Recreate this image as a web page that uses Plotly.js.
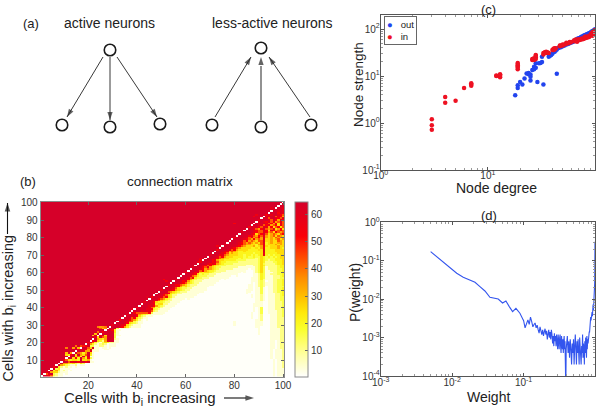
<!DOCTYPE html>
<html><head><meta charset="utf-8">
<script src="https://cdn.plot.ly/plotly-3.0.1.min.js"></script>
<style>html,body{margin:0;padding:0;background:#fff}</style>
</head><body><div id="chart" style="width:602px;height:415px"></div>
<script>
// ---------- panel (a): network sketches ----------
const nodeX = [110, 62, 110, 160, 261, 212, 261, 311];
const nodeY = [50, 125, 127, 124, 48, 125, 127, 125];
const darkArrowX = [103, 67, null, 110, 110, null, 117, 157, null, 215, 251, null, 310, 269];
const darkArrowY = [57, 117, null, 57, 120, null, 57, 117, null, 117, 57, null, 117, 57];
const grayArrowX = [261, 261];
const grayArrowY = [120, 66];
const headFromX = [103, 110, 117, 215, 261, 310];
const headFromY = [57, 57, 57, 117, 120, 117];
const headToX = [67, 110, 157, 251, 261, 269];
const headToY = [117, 120, 117, 57, 57, 57];
const axisArrowX = [224, 254, null, 7.5, 7.5];
const axisArrowY = [398, 398, null, 234, 203];

// ---------- panel (b): connection matrix ----------
const tickValuesB = [20, 40, 60, 80, 100];
const tickValuesBY = [10, 20, 30, 40, 50, 60, 70, 80, 90, 100];
const colorTicks = [10, 20, 30, 40, 50, 60];
const levelKeys = ['.', 'a', 'b', 'c', 'd', 'e', 'f', 'g', 'h', 'i', 'j', 'k'];
const levelValues = [1, 4, 11, 16, 21, 26, 34, 43, 52, 58, 62, 64];
const saturatedValue = 64;
// below the diagonal: rows y = 99 down to y = 1, cells x = y+1 ... 100 (numbers = run of blanks)
const lowerRows = [
"j","kj","kji","jkki","kjiji","kjkhji","kijkihg","jikjgihf","kjgjkihgi","kjkigjhfih",
"i kihjgifgig","ki jkighfieig","jki jghifgheig","kijh gjifhegheg","kjigf hjgfgiefhe",
"kkjihg gjheihfghg","kkkjihg gihfgehgfg","kkjkiheg hjgefgfegh","kkjjhigfh gifefgegfe","kkkjighfgh fjfefegfge",
"k kkjihgfhfg fjeefefgef","kk jjighfgfeg gjeefeegfe","kkk jihgfgfefe gidefeeffe","kkkj jihgffeedf gideeefefe","kkkjj ihgfeeefde fiedeeefee",
"kkkjih gfeeeedded fiddeeefed","kkkjigh feeeedddde ejddddeeee","kkjihfgf eddedddddd ejddddeeee","kkjihgefe eddddddcdd eidddddeee","kkjhigfeee eddcddcdcd eidcdcddee",
"k kjighfeeed dddcdccdcc edcdcdcdee","kk jihgfeeddd dcdcccccbc edccccddee","kkj hifeeddddd ccccbbbbbc edcbccddde","kkjj higeddcccc cbbbbbbbbc edbbbccdde","kkjih ihfedccccb bbbbbbbbbc ecbbbbcdde",
"kjihgh fedcccbbbb bbbbaaabbc edbbbbbcdd","kkjhgif edccbbbbbb baaaaaaabc ecabbbbcdd","kkjihfgf edcbbbbbba aaaaa.aabc ecabbbbccd","kkjighfed dcbbbbaaaa aaaa...abc ecaabbbccd","kkjhiedeed cbbbaaaaaa aa.a...abc ecaaabbccd",
"k kjihecdccb bbaaaaaaaa a......aab dcaabbbccd","kk jigfdcccbb baaaaaaa.. a......aab dcaaabbbcd","kkj ighdccbbba aaaaaaa... ......aaab dcaaabbbcc","kkjj hfdcbbbaaa aaaa.a.... ......aaab dbaaabbccd","kkjhi fdcbbbaaaa aaa....... ......aaab cb.aabbccd",
"kkjihg edcbbaaaaa aa........ ......a.ab cbaaabbccd","kjhhgfe cbbbaaaaaa a......... .....aa.ab cbaaabbccd","kkjihfde cbbaaaaaa. 10 .....aa.ab cb.aabbccc","kkjigedcc bbaaaaaa.. 10 .....aa.aa ca.aabbccd","kkjihfedcb baaaaaaa.. 10 ....aaa.aa ca.aabbccd",
"k kjgfedcbbb aaaaaaa... 10 ....aa..aa ca.aabbccd","kk jihedcbbaa aaaaa..... 10 ....a...aa ca.aaabbcd","kkj hgedbbaaaa aaaa...... 10 ......a.aa ba.aaabbcd","kkji ghedbaaaaa aaa....... 10 ......a.aa ba.aaabbcc","kkjhg fdcbaaaaa. a......... 10 ........aa ba.aaabbcc",
"kkjige dcbbaaaa.. 10 10 ........aa ba.aaabbcc","kkjhedd cbbaaaa... 10 10 ........aa a..aaabbbc","kkjiidee bbaaaa.... 10 10 .......aaa a..aaabbbc","kkjijhfdc baaaa..... 10 10 .......aaa a..aaabbbc","kjkjigfcdb aaaa...... 10 10 .......a.a c..aaabbbc",
"k kjkiihdcba aaa....... 10 10 .......a.a c..aaabbbc","kk kijiigcbaa aa........ 10 10 .......a.a c..aaaabbc","khg gggghcaaaa a......... 10 10 ......a..a c..aaaabbc","kkjh fedcbaaaaa 10 10 10 ......a..a b...aaabbc","kkijh ecbaaa.... 10 10 10 ......a..a b...aaabbc",
"kjjghe cbaa...... 10 10 10 ......a..a b...aaabbb","kkjhgfd ba.a...... 10 10 10 ........aa b...aaabbb","kkiiggcb aa........ 10 10 .........a ........aa a...aaabbb","kkkjhedcb aa........ 10 10 .........a ........aa a...aaabbb","kkjihecbaa a......... 10 10 .........a ........aa a...aaabbb",
"k kkihfdbaaa a......... 10 10 10 ........aa ....aaabbb","kk jc.aaa.... 10 10 10 10 .........a ....aaaabb","kkh daa....... 10 10 10 10 .........a ....aaaabb","kkkj da........ 10 10 10 10 .........a ....aaaabb","kjkkk ca........ 10 10 10 10 .........a ....aaaabb",
"hkekkk caa....... 10 10 10 10 10 ....aaaabb","ekgfjkk c......... 10 10 10 10 10 ....aaaabb","kfedfkkj ba........ 10 10 10 10 10 ....aaaabb","hkedbfjkk aa........ 10 10 10 10 10 ....aa.abb","kgdbacedbb aa........ 10 10 10 10 10 ....aa.abb",
"k fdbabcb.aa a......... 10 10 10 10 10 ....aa.abb","hk ccaabba.aa a......... 10 10 10 10 10 ....aa.abb","kkg ekaa.aa.a. 10 10 10 10 10 10 ....aa.abb","kkhf kbaa..aa.. 10 10 10 10 10 10 ....a.aaab","kkjff iaaa...... 10 10 10 10 10 10 ....a.aaab",
"kgfdfk ea........ 10 10 10 10 10 10 ....a.aaab","kekfegk da........ 10 10 10 10 10 10 ....a.aaab","kkegdkek aa........ 10 10 10 10 10 10 ....a.aaab","kkehdkfdh ca........ 10 10 10 10 10 10 ....a.aaab","gedeedkeef a......... 10 10 10 10 10 10 .....a.aab",
"k kgiikhjkhk aa........ 10 10 10 10 10 10 .....a.aab","kf fedecbec.. 10 10 10 10 10 10 10 .....a.aab","kfe cbaab.aa.. 10 10 10 10 10 10 10 .....a.aab","kdba baa.a..... 10 10 10 10 10 10 10 .....a.aab","kcdaa aa........ 10 10 10 10 10 10 10 .....a.aaa",
"kdfcab a.a....... 10 10 10 10 10 10 10 .....a.aaa","jfeebaa a......... 10 10 10 10 10 10 10 .....a.aaa","gikcbaa. a......... 10 10 10 10 10 10 10 .....a.aaa","kjhgcbaa. 10 10 10 10 10 10 10 10 .....a.aaa"
];
// the diagonal, x = y = 1 ... 100: a broken pale line
const diagonalCells = "..i..h...i..h..i...h..i..h...i..h..i...h..i..h...i..h..i...h..i..h...i..h..i...h..i..h...i..h..i....";
// cells above the diagonal that differ from the saturated block
const upperX = [11,11,11,12,14,15,16,17,18,13,22,23,24,25,26,27,25,26,27,24,51,52,66,66,73,80,88,89,95,65,44,38];
const upperY = [17,14,13,13,17,18,17,18,18,14,24,25,29,29,29,29,28,28,28,26,56,55,67,68,75,88,92,93,97,66,46,39];
const upperV = [38,30,26,24,34,40,30,44,50,36,28,30,38,34,36,40,44,30,36,40,52,54,54,58,54,52,54,56,58,56,58,58];

const colorStopValues = [0.5, 4, 8, 12, 18, 24, 30, 37, 45, 52, 59, 64.5];
const colorStopColors = ['#ffffff','#ffffd6','#ffffaa','#ffff78','#f9ff2c','#ffe90a','#ffbe00','#ff8c00','#ff4400','#fb0008','#e5001a','#d4002a'];

// ---------- panel (c): node strength ----------
const outDegree = [18,19,19,20,21,22,23,24,25,25,25,29,33,44,24,26,27,27,28,28,30,31,32,32,37,38,38,39,40,41,42,43,44,45,46,48,50,52,54,56,58,60,62,64,66,68,70,72,74,76,78,80,82,84,86,88,90,92,94,96,98,100];
const outStrength = [3.9,5.6,6.4,7.5,6.6,8.9,11.4,11.6,10.8,9.7,8.1,7.5,6.6,11.2,11,13.4,15.8,14,18.7,15,18.7,19,20,25.9,25.9,27,28,28,30,32,33,35,37,39,40,41,43,45,47,48,50,52,53,56,58,62,64,65,68,70,72,74,76,78,80,82,84,87,90,92,95,100];
const inDegree = [3,3,3,4,4,5,6,7,7,7,12,12,13,13,13,13,19,19,19,19,19,19,26,26,27,27,28,28,28,28,33,33,34,34,35,35,36,37,40,41,41,42,42,43,47,47,48,50,50,52,54,54,56,58,58,60,64,64,66,66,68,68,70,70,72,75,75,78,80,80,82,82,85,85,88,88,92,92,94,94,94,96,96,96,98,98,98,100,100,100];
const inStrength = [0.72,0.9,1.2,2.7,3.6,3,5.6,6.2,6.6,7,10,10.3,9.4,10,10.6,11,14,15,16,17,18,19,22,23,22,24,23,25,27,28,29,31,31,32,31,33,32,31,36,36,38,37,39,39,43,45,45,45,47,47,49,51,50,51,53,53,55,58,56,60,54,57,58,61,59,60,63,62,64,68,65,70,66,68,68,72,75,80,72,78,85,74,80,88,76,84,92,78,86,95];
const ticksC = [1, 10, 100];
const ticksCLabels = ['10<sup>0</sup>', '10<sup>1</sup>', '10<sup>2</sup>'];
const ticksCY = [0.1, 1, 10, 100];
const ticksCYLabels = ['10<sup>-1</sup>', '10<sup>0</sup>', '10<sup>1</sup>', '10<sup>2</sup>'];

// ---------- panel (d): weight distribution ----------
const weightValues = [0.005,0.00607,0.0075,0.0093,0.01,0.0116,0.0143,0.0177,0.0209,0.0245,0.0288,0.0338,0.0397,0.0442,0.0508,0.0566,0.0631,0.0702,0.0782,0.0889,0.0989,
0.1,0.105,0.11,0.115,0.12,0.125,0.13,0.135,0.14,0.145,0.15,0.155,0.16,0.165,0.17,0.175,0.18,0.185,0.19,0.195,0.2,0.205,0.21,0.215,0.22,0.225,0.23,0.235,0.24,0.245,0.25,0.255,0.26,0.265,0.27,0.275,0.28,0.285,0.29,0.295,0.3,0.305,0.31,0.315,0.32,0.325,0.33,0.335,0.34,0.345,0.35,0.355,0.36,0.365,0.37,0.375,0.38,0.385,0.39,0.395,
0.4,0.41,0.42,0.43,0.44,0.45,0.46,0.47,0.48,0.49,0.5,0.51,0.52,0.53,0.54,0.55,0.56,0.57,0.58,0.59,0.6,0.61,0.62,0.63,0.64,0.65,0.66,0.67,0.68,0.69,0.7,0.71,0.72,0.73,0.74,0.75,0.76,0.77,0.78,0.79,0.8,0.81,0.82,0.83,0.84,0.85,0.86,0.87,0.88,0.89,0.9,0.91,0.92,0.93,0.94,0.95,0.96,0.97,0.98,0.99,1];
const weightProb = [0.1725,0.128,0.091,0.0636,0.0564,0.0471,0.0371,0.0316,0.0275,0.0212,0.0163,0.0112,0.0107,0.0101,0.00796,0.00897,0.0064,0.00474,0.00578,0.00429,0.00288,
0.0028,0.0018,0.0024,0.0029,0.0022,0.0034,0.0026,0.0019,0.0022,0.0024,0.0018,0.0021,0.0016,0.0013,0.0019,0.0015,0.0012,0.0016,0.0011,0.0014,0.0017,0.0012,0.0015,0.0009,0.0013,0.0016,0.001,0.0014,0.0009,0.0016,0.0012,0.0007,0.0011,0.0006,0.0013,0.0008,0.0011,0.0006,0.0012,0.0009,0.0005,0.0012,0.0007,0.0005,0.001,0.0012,0.0006,0.0004,0.0011,0.0007,0.0005,0.0009,0.0004,0.0008,0.0011,0.0005,0.0008,0.0002,0.00004,0.0005,
0.0006,0.0011,0.0004,0.0008,0.0003,0.0009,0.0005,0.0002,0.0007,0.0004,0.0009,0.0002,0.0006,0.0012,0.0005,0.0002,0.0008,0.0004,0.0009,0.0003,0.0002,0.001,0.0005,0.0007,0.0002,0.0006,0.0004,0.0012,0.0003,0.0007,0.0005,0.0002,0.0008,0.0004,0.001,0.0006,0.0003,0.0011,0.0005,0.0009,0.0007,0.0012,0.0008,0.0014,0.0014,0.003,0.0024,0.0034,0.0028,0.0038,0.003,0.0046,0.0036,0.006,0.0072,0.005,0.0085,0.012,0.008,0.026,0.31];
const ticksDX = [0.001, 0.01, 0.1, 1];
const ticksDXLabels = ['10<sup>-3</sup>', '10<sup>-2</sup>', '10<sup>-1</sup>', '10<sup>0</sup>'];
const ticksDY = [0.0001, 0.001, 0.01, 0.1, 1];
const ticksDYLabels = ['10<sup>-4</sup>', '10<sup>-3</sup>', '10<sup>-2</sup>', '10<sup>-1</sup>', '10<sup>0</sup>'];

// ---------- build ----------
const W = 602, H = 415;
const size = 100;
const z = [];
for (let y = 1; y <= size; y++) {
  const row = [];
  for (let x = 1; x <= size; x++) row.push(saturatedValue);
  z.push(row);
}
const levelOf = c => levelValues[levelKeys.indexOf(c)];
lowerRows.forEach((str, i) => {
  const y = 99 - i;
  const cells = str.replace(/\d+/g, n => '.'.repeat(+n)).replace(/\s/g, '');
  for (let k = 0; k < cells.length && y + 1 + k <= size; k++) z[y - 1][y + k] = levelOf(cells[k]);
});
for (let d = 1; d <= size; d++) z[d - 1][d - 1] = levelOf(diagonalCells[d - 1]);
upperX.forEach((x, i) => { z[upperY[i] - 1][x - 1] = upperV[i]; });

const zMin = 0.5, zMax = 64.5;
const colorscale = colorStopValues.map((v, i) => [(v - zMin) / (zMax - zMin), colorStopColors[i]]);

const X = p => p / W, Y = p => 1 - p / H;
const font = 'Liberation Sans, Arial, sans-serif';
const inkB = '#8a8a8a', inkLog = '#555555', labelInk = '#333333';

const logMinor = {ticks: 'inside', ticklen: 2, tickcolor: '#999', dtick: 'D1', showgrid: false};
const logAxis = (domain, range, anchor, vals, texts, standoff) => ({
  domain, range, type: 'log', anchor, showgrid: false, zeroline: false, mirror: 'allticks',
  showline: true, linecolor: inkLog, linewidth: 1, ticks: 'inside', ticklen: 3, tickcolor: inkLog,
  tickmode: 'array', tickvals: vals, ticktext: texts, ticklabelstandoff: standoff,
  tickfont: {family: font, size: 10, color: labelInk}, minor: logMinor
});
const linAxis = (domain, range, anchor, vals, standoff) => ({
  domain, range, anchor, showgrid: false, zeroline: false, mirror: 'allticks',
  showline: true, linecolor: inkB, linewidth: 1, ticks: 'inside', ticklen: 3, tickcolor: '#666',
  tickvals: vals, ticktext: vals.map(String), ticklabelstandoff: standoff, tickfont: {family: font, size: 10, color: labelInk}
});

// arrow heads sit on the last point of each segment
const headX = [], headY = [];
headFromX.forEach((x, i) => { headX.push(x, headToX[i], null); headY.push(headFromY[i], headToY[i], null); });
const headSizes = headX.map((v, i) => (i % 3 === 1 ? 8.5 : 0));
const axisHeadSizes = axisArrowX.map((v, i) => (i % 3 === 1 ? 9 : 0));

const traces = [
  {type: 'heatmap', x: Array.from({length: size}, (_, i) => i + 1), y: Array.from({length: size}, (_, i) => i + 1), z,
   xaxis: 'x', yaxis: 'y', zmin: zMin, zmax: zMax, colorscale, hoverinfo: 'skip',
   colorbar: {x: X(295), xanchor: 'left', xpad: 0, y: Y(289.2), yanchor: 'middle', ypad: 0,
     len: 175, lenmode: 'pixels', thickness: 13, thicknessmode: 'pixels',
     outlinecolor: inkB, outlinewidth: 1, ticks: 'inside', ticklen: 3, tickcolor: '#666',
     tickvals: colorTicks, ticktext: colorTicks.map(String), tickfont: {family: font, size: 10, color: labelInk}}},
  {type: 'scatter', mode: 'markers', name: 'out', x: outDegree, y: outStrength, xaxis: 'x2', yaxis: 'y2',
   marker: {color: '#2244ee', size: 4.5}},
  {type: 'scatter', mode: 'markers', name: 'in', x: inDegree, y: inStrength, xaxis: 'x2', yaxis: 'y2',
   marker: {color: '#ee1122', size: 4.5}},
  {type: 'scatter', mode: 'lines', name: 'P(weight)', x: weightValues, y: weightProb, xaxis: 'x3', yaxis: 'y3',
   line: {color: '#3355ee', width: 1.1}},
  {type: 'scatter', mode: 'lines', x: grayArrowX, y: grayArrowY, xaxis: 'x4', yaxis: 'y4', line: {color: '#777', width: 1.6}},
  {type: 'scatter', mode: 'lines', x: darkArrowX, y: darkArrowY, xaxis: 'x4', yaxis: 'y4', line: {color: '#222', width: 0.9}},
  {type: 'scatter', mode: 'markers', x: headX, y: headY, xaxis: 'x4', yaxis: 'y4',
   marker: {symbol: 'arrow', angleref: 'previous', size: headSizes, color: '#222', line: {width: 0}}},
  {type: 'scatter', mode: 'lines+markers', x: axisArrowX, y: axisArrowY, xaxis: 'x4', yaxis: 'y4',
   line: {color: '#111', width: 1.1},
   marker: {symbol: 'arrow', angleref: 'previous', size: axisHeadSizes, color: '#111', line: {width: 0}}},
  {type: 'scatter', mode: 'markers', name: 'neurons', x: nodeX, y: nodeY, xaxis: 'x4', yaxis: 'y4',
   hoverinfo: 'skip', marker: {size: 11.5, color: '#fff', line: {color: '#1a1a1a', width: 1.6}}}
];

const label = (text, x, y, size, extra) => Object.assign({text, x, y, xref: 'x4', yref: 'y4', showarrow: false,
  xanchor: 'center', yanchor: 'middle', font: {family: font, size, color: '#222'}}, extra || {});

const annotations = [
  label('(a)', 31, 23, 13),
  label('active neurons', 109, 23, 14),
  label('less-active neurons', 272, 23, 14),
  label('(b)', 28, 181, 13),
  label('connection matrix', 180, 181, 13.5),
  label('Cells with b<sub>i</sub> increasing', 140, 398, 15),
  label('Cells with b<sub>i</sub> increasing', 8.5, 308, 14.5, {textangle: -90}),
  label('(c)', 488, 9, 13),
  label('Node degree', 496, 188, 14),
  label('Node strength', 358, 85, 13.5, {textangle: -90}),
  label('(d)', 489, 215, 13),
  label('Weight', 488, 397, 14),
  label('P(weight)', 355, 293, 14, {textangle: -90}),
  label('<span style="color:#2244ee">●</span>   out<br><span style="color:#ee1122">●</span>   in', 384, 16, 9.5,
    {xanchor: 'left', yanchor: 'top', align: 'left', bordercolor: '#666', borderwidth: 1, borderpad: 2, bgcolor: '#fff'})
];

const layout = {
  width: W, height: H, margin: {l: 0, r: 0, t: 0, b: 0, autoexpand: false},
  paper_bgcolor: '#fff', plot_bgcolor: 'rgba(0,0,0,0)', showlegend: false, hovermode: false,
  font: {family: font},
  xaxis: linAxis([X(40.7), X(284.3)], [0.5, 100.5], 'y', tickValuesB, -1),
  yaxis: linAxis([Y(376.7), Y(201.7)], [0.5, 100.5], 'x', tickValuesBY, 0),
  xaxis2: logAxis([X(380.7), X(595)], [0, 2], 'y2', ticksC, ticksCLabels, -4),
  yaxis2: logAxis([Y(170), Y(15)], [-1, 2.301], 'x2', ticksCY, ticksCYLabels, -2),
  xaxis3: logAxis([X(380.7), X(595)], [-3, 0], 'y3', ticksDX, ticksDXLabels, -3),
  yaxis3: logAxis([Y(376), Y(222.3)], [-4, 0], 'x3', ticksDY, ticksDYLabels, -2),
  xaxis4: {domain: [0, 1], range: [0, W], anchor: 'y4', visible: false, fixedrange: true},
  yaxis4: {domain: [0, 1], range: [H, 0], anchor: 'x4', visible: false, fixedrange: true},
  annotations
};
Plotly.newPlot('chart', traces, layout, {staticPlot: true, displayModeBar: false});
</script></body></html>
